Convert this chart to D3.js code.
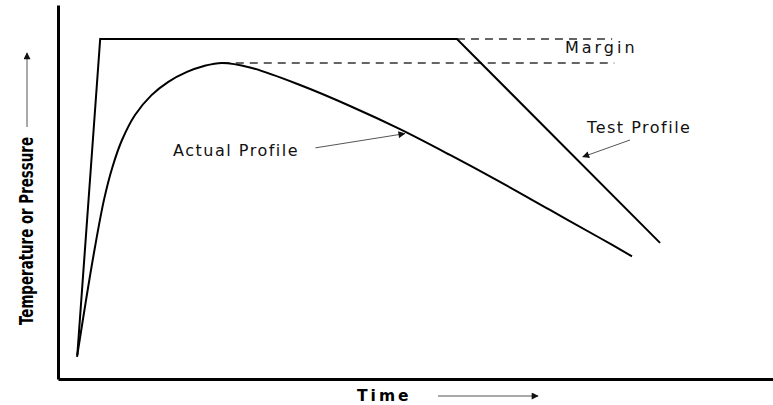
<!DOCTYPE html>
<html>
<head>
<meta charset="utf-8">
<script src="https://cdn.jsdelivr.net/npm/d3@7"></script>
<style>
  body { margin: 0; background: #fff; }
  svg { display: block; }
  .note { font-family: 'DejaVu Sans', sans-serif; font-size: 16px; letter-spacing: 1.5px; fill: #111; }
</style>
</head>
<body>
<div class="chart"></div>
<script>
// ======= TEST PROFILE vs ACTUAL PROFILE (schematic) ===========

// values are in arbitrary units: time 0..100, level 0..100
const testTime = [2.7, 5.9, 55.8, 84.2]
const testLevel = [6.4, 90.9, 90.9, 36.4]

const actualTime = [2.66, 3.92, 5.10, 6.43, 7.62, 8.95, 10.77, 13.08, 15.38, 18.04, 20.42, 22.94,
  26.85, 33.85, 40.84, 47.83, 54.83, 61.82, 68.81, 75.80, 80.28]
const actualLevel = [5.9, 21.1, 34.5, 47.9, 56.7, 63.9, 70.6, 75.9, 79.4, 82.1, 83.7, 84.5,
  83.3, 78.6, 73.0, 66.8, 59.9, 52.7, 45.2, 37.7, 32.8]

// dashed margin lines: [startTime, endTime, level]
const marginLines = [[55.8, 77.5, 90.9], [22.9, 77.8, 84.5]]

// labels: [text, time, level]
const labels = [
  ['Margin', 70.9, 87.2],
  ['Test Profile', 74.0, 65.8],
  ['Actual Profile', 16.1, 59.6]
]
// pointer arrows: [fromTime, fromLevel, toTime, toLevel]
const pointers = [[36.0, 61.8, 48.5, 65.6], [80.0, 63.9, 73.4, 59.4]]

const margin = { top: 5, right: 0, bottom: 26, left: 58 }
const W = 773
const H = 405
const width = W - margin.left - margin.right
const height = H - margin.top - margin.bottom

const svg = d3.select('.chart')
  .append('svg')
    .attr('width', W)
    .attr('height', H)

const defs = svg.append('defs')
defs.append('marker')
    .attr('id', 'head')
    .attr('viewBox', '0 0 10 10')
    .attr('refX', 9)
    .attr('refY', 5)
    .attr('markerUnits', 'userSpaceOnUse')
    .attr('markerWidth', 9)
    .attr('markerHeight', 7)
    .attr('orient', 'auto')
  .append('path')
    .attr('d', 'M0,0L10,5L0,10z')
    .attr('fill', '#111')

const g = svg.append('g')
    .attr('transform', `translate(${margin.left}, ${margin.top})`)

const x = d3.scaleLinear().domain([0, 100]).range([0, width])
const y = d3.scaleLinear().domain([0, 100]).range([height, 0])

// bare axes, no ticks
const xAxis = d3.axisBottom(x).tickValues([]).tickSizeOuter(0)
const yAxis = d3.axisLeft(y).tickValues([]).tickSizeOuter(0)

g.append('g')
    .attr('transform', `translate(0, ${height})`)
    .call(xAxis)
  .select('.domain')
    .attr('stroke', '#000')
    .attr('stroke-width', 3)

g.append('g')
    .call(yAxis)
  .select('.domain')
    .attr('stroke', '#000')
    .attr('stroke-width', 3)

// margin dashes
g.selectAll('.margin-line')
  .data(marginLines)
  .enter().append('line')
    .attr('x1', d => x(d[0]))
    .attr('x2', d => x(d[1]))
    .attr('y1', d => y(d[2]))
    .attr('y2', d => y(d[2]))
    .attr('stroke', '#333')
    .attr('stroke-width', 1.4)
    .attr('stroke-dasharray', '8,6')

const testLine = d3.line()
  .x((d, i) => x(testTime[i]))
  .y(d => y(d))

g.append('path')
    .attr('d', testLine(testLevel))
    .attr('fill', 'none')
    .attr('stroke', '#000')
    .attr('stroke-width', 2)
    .attr('stroke-linejoin', 'miter')

const actualLine = d3.line()
  .x((d, i) => x(actualTime[i]))
  .y(d => y(d))
  .curve(d3.curveCatmullRom.alpha(0.5))

g.append('path')
    .attr('d', actualLine(actualLevel))
    .attr('fill', 'none')
    .attr('stroke', '#000')
    .attr('stroke-width', 2)

// labels + pointers
g.selectAll('.note')
  .data(labels)
  .enter().append('text')
    .attr('class', 'note')
    .attr('x', d => x(d[1]))
    .attr('y', d => y(d[2]))
    .style('letter-spacing', d => d[0] === 'Margin' ? '3px' : null)
    .text(d => d[0])

g.selectAll('.pointer')
  .data(pointers)
  .enter().append('line')
    .attr('x1', d => x(d[0]))
    .attr('y1', d => y(d[1]))
    .attr('x2', d => x(d[2]))
    .attr('y2', d => y(d[3]))
    .attr('stroke', '#555')
    .attr('stroke-width', 1)
    .attr('marker-end', 'url(#head)')

// axis titles
svg.append('text')
    .attr('x', 357)
    .attr('y', 401)
    .style('font-family', "'DejaVu Sans', sans-serif")
    .style('font-weight', 'bold')
    .style('font-size', '15.5px')
    .style('letter-spacing', '3px')
    .text('Time')

svg.append('line')
    .attr('x1', 438).attr('y1', 396)
    .attr('x2', 538).attr('y2', 396)
    .attr('stroke', '#555')
    .attr('stroke-width', 1)
    .attr('marker-end', 'url(#head)')

svg.append('text')
    .attr('transform', 'translate(33, 231) rotate(-90)')
    .attr('text-anchor', 'middle')
    .attr('textLength', 188)
    .attr('lengthAdjust', 'spacingAndGlyphs')
    .style('font-family', "'DejaVu Sans', sans-serif")
    .style('font-weight', 'bold')
    .style('font-size', '19px')
    .text('Temperature or Pressure')

svg.append('line')
    .attr('x1', 27).attr('y1', 127)
    .attr('x2', 27).attr('y2', 53)
    .attr('stroke', '#555')
    .attr('stroke-width', 1)
    .attr('marker-end', 'url(#head)')
</script>
</body>
</html>
